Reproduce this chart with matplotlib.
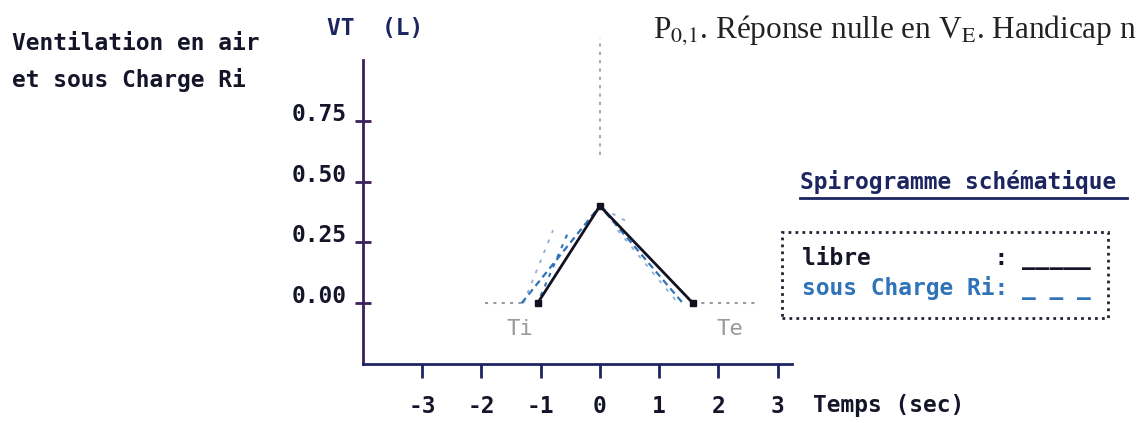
import matplotlib
matplotlib.use("Agg")
import matplotlib.pyplot as plt
from matplotlib.patches import Rectangle
from matplotlib.lines import Line2D

W, H = 1136, 423

# data (seconds, litres)
libre_t = [-1.05, 0.0, 1.57]
libre_v = [0.0, 0.40, 0.0]

charge_t = [-1.32, 0.0, 1.40]
charge_v = [0.0, 0.40, 0.0]

extra1_t = [-1.29, -0.79]
extra1_v = [0.0, 0.30]
extra2_t = [-1.00, -0.52]
extra2_v = [0.03, 0.30]
extra3_t = [0.05, 0.50]
extra3_v = [0.39, 0.33]
extra4_t = [0.30, 1.32]
extra4_v = [0.30, 0.0]

base_left_t = [-1.94, -1.32]
base_right_t = [1.57, 2.62]
base_v = [0.0, 0.0]

vert_t = [0.0, 0.0]
vert_v = [0.61, 1.09]

xticks = [-3, -2, -1, 0, 1, 2, 3]
yticks = [0.0, 0.25, 0.50, 0.75]
ytick_labels = ["0.00", "0.25", "0.50", "0.75"]

MONO = "DejaVu Sans Mono"
NAVY = "#1c2560"
INK = "#15152a"
BLUE = "#2f73b8"
GREY = "#9a9a9a"

plt.rcParams["mathtext.fontset"] = "stix"


def fx(x):
    return x / W


def fy(y):
    return 1 - y / H


fig = plt.figure(figsize=(W / 100, H / 100), dpi=100)
ax = fig.add_axes([fx(362.7), fy(364), fx(792) - fx(362.7), fy(60) - fy(364)])
ax.set_xlim(-4.0, 3.24)
ax.set_ylim(-0.25, 1.0)

# curves
ax.plot(base_left_t, base_v, color=GREY, lw=1.5, ls=(0, (1.5, 2.5)))
ax.plot(base_right_t, base_v, color=GREY, lw=1.5, ls=(0, (1.5, 2.5)))
ax.plot(vert_t, vert_v, color=GREY, lw=1.2, ls=(0, (2, 3)), clip_on=False)
ax.plot(extra1_t, extra1_v, color="#8fb2d8", lw=1.3, ls=(0, (2, 4)))
ax.plot(extra2_t, extra2_v, color=BLUE, lw=1.5, ls=(0, (2, 3)))
ax.plot(extra3_t, extra3_v, color="#8fb2d8", lw=1.3, ls=(0, (2, 4)))
ax.plot(extra4_t, extra4_v, color="#8fb2d8", lw=1.3, ls=(0, (2, 4)))
ax.plot(charge_t, charge_v, color=BLUE, lw=1.6, ls=(0, (3, 2)))
ax.plot(libre_t, libre_v, color="#111122", lw=2.0, marker="s", ms=5,
        markerfacecolor="#111122")

ax.text(-1.35, -0.105, "Ti", color=GREY, fontsize=16, family=MONO,
        ha="center", va="center")
ax.text(2.2, -0.105, "Te", color=GREY, fontsize=16, family=MONO,
        ha="center", va="center")

# axes styling
for s in ["top", "right"]:
    ax.spines[s].set_visible(False)
ax.spines["left"].set_color("#3d1f5c")
ax.spines["left"].set_linewidth(2)
ax.spines["bottom"].set_color(NAVY)
ax.spines["bottom"].set_linewidth(2)

ax.set_xticks(xticks)
ax.set_xticklabels([str(t) for t in xticks], family=MONO, fontsize=16.5,
                   fontweight="bold", color=INK)
ax.set_yticks(yticks)
ax.set_yticklabels(ytick_labels, family=MONO, fontsize=16.5,
                   fontweight="bold", color=INK, va="baseline")
ax.tick_params(axis="x", direction="out", length=10, width=2, color=NAVY, pad=12)
ax.tick_params(axis="y", direction="inout", length=11, width=2, color="#3d1f5c", pad=6)

# texts around the chart
fig.text(fx(12), fy(43), "Ventilation en air", family=MONO, fontsize=16.5,
         color=INK, fontweight="bold", va="center", ha="left")
fig.text(fx(12), fy(80), "et sous Charge Ri", family=MONO, fontsize=16.5,
         color=INK, fontweight="bold", va="center", ha="left")
fig.text(fx(375), fy(28), "VT  (L)", family=MONO, fontsize=16.5, color=NAVY,
         fontweight="bold", va="center", ha="center")
fig.text(fx(813), fy(405), "Temps (sec)", family=MONO, fontsize=16.5,
         color=INK, fontweight="bold", va="center", ha="left")
fig.text(fx(653), fy(30), r"P$_{0{,}1}$. Réponse nulle en V$_{\mathrm{E}}$. Handicap n",
         family="Liberation Serif", fontsize=22.5, color="#222222",
         va="center", ha="left")

fig.text(fx(800), fy(182), "Spirogramme schématique", family=MONO,
         fontsize=16.5, color=NAVY, fontweight="bold", va="center", ha="left")
fig.add_artist(Line2D([fx(800), fx(1127)], [fy(198), fy(198)], color=NAVY, lw=2))

fig.add_artist(Rectangle((fx(782), fy(318)), fx(1108) - fx(782), fy(232) - fy(318),
                         fill=False, edgecolor="#222233", lw=2, ls=(0, (1, 1.5))))
fig.text(fx(802), fy(258), "libre         : _____", family=MONO, fontsize=16.5,
         color=INK, fontweight="bold", va="center", ha="left")
fig.text(fx(802), fy(288), "sous Charge Ri: _ _ _", family=MONO, fontsize=16.5,
         color=BLUE, fontweight="bold", va="center", ha="left")

fig.savefig("out.png", dpi=100)
